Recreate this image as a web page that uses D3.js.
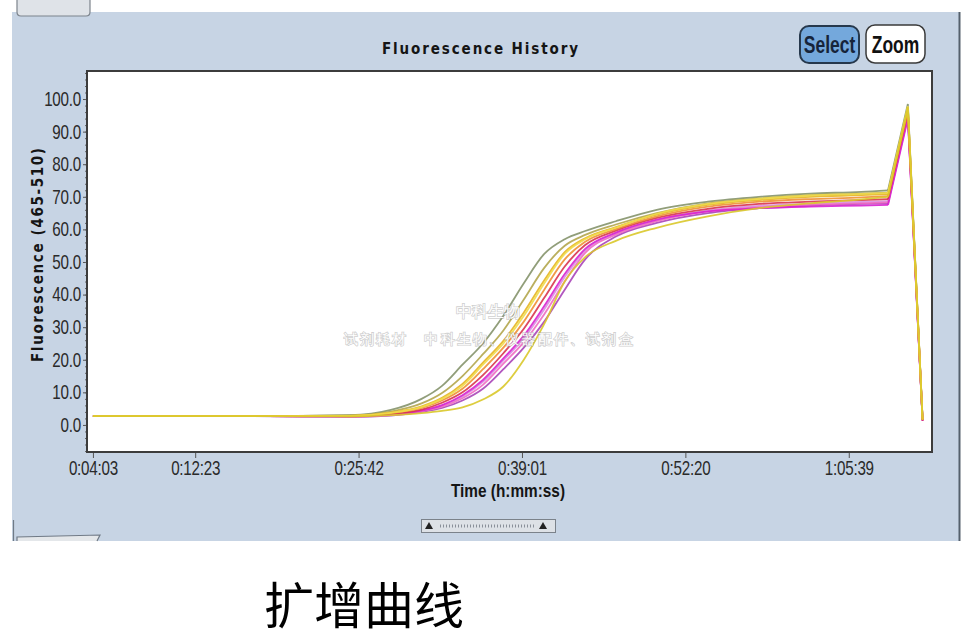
<!DOCTYPE html>
<html>
<head>
<meta charset="utf-8">
<script src="https://cdn.jsdelivr.net/npm/d3@7"></script>
<style>
  html, body { margin: 0; padding: 0; background: #fff; }
  svg text { font-family: "Liberation Sans", Arial, sans-serif; }
</style>
</head>
<body>
<div id="chart"></div>
<script>
// time of each reading, seconds
var times = [243, 1000, 1500, 1700, 1850, 1950, 2050, 2150, 2250, 2350, 2450, 2550, 2650, 2800, 3000, 3250, 3500, 3750, 4000, 4131, 4228, 4300];

// one array per sample (fluorescence 465-510)
var grayGreen = [2.7, 2.7, 3.0, 4.6, 8.0, 12.0, 18.5, 25.0, 33.5, 43.5, 52.5, 57.0, 59.5, 62.5, 66.0, 68.5, 70.0, 71.0, 71.5, 72.0, 98.5, 1.6];
var khaki     = [2.7, 2.7, 2.9, 4.1, 6.6, 9.8, 15.0, 21.7, 29.0, 38.5, 48.2, 55.0, 58.3, 61.5, 65.0, 68.0, 69.5, 70.5, 71.0, 71.3, 97.5, 1.4];
var purple    = [2.7, 2.7, 2.5, 2.9, 4.0, 5.2, 7.5, 11.1, 17.1, 23.7, 31.7, 41.5, 50.8, 57.8, 62.0, 65.0, 66.5, 67.3, 67.8, 68.0, 95.0, 1.5];
var orchid    = [2.7, 2.7, 2.6, 3.1, 4.3, 5.9, 8.7, 13.2, 19.8, 26.6, 35.5, 45.4, 53.5, 58.8, 62.8, 65.8, 67.2, 67.9, 68.4, 68.7, 95.2, 1.4];
var pink      = [2.7, 2.7, 2.6, 3.0, 4.2, 5.6, 8.2, 12.3, 18.8, 25.4, 34.0, 44.0, 52.8, 58.4, 62.5, 65.5, 66.8, 67.5, 68.0, 68.3, 94.5, 1.4];
var magenta   = [2.7, 2.7, 2.6, 3.2, 4.4, 6.1, 9.1, 13.8, 20.4, 27.4, 36.5, 46.3, 54.0, 59.0, 63.0, 65.5, 66.5, 67.0, 67.3, 67.5, 94.0, 1.2];
var red       = [2.7, 2.7, 2.7, 3.4, 4.7, 6.8, 10.0, 15.3, 22.0, 29.5, 39.0, 48.6, 55.2, 59.6, 63.5, 66.3, 67.8, 68.5, 69.0, 69.3, 96.0, 1.3];
var orange    = [2.7, 2.7, 2.7, 3.6, 5.2, 7.5, 11.1, 17.1, 23.7, 31.7, 41.5, 50.8, 56.2, 60.1, 64.0, 67.0, 68.5, 69.3, 69.8, 70.2, 96.5, 1.5];
var gold      = [2.7, 2.7, 2.8, 3.8, 5.7, 8.3, 12.6, 19.1, 25.8, 34.5, 44.4, 53.0, 57.3, 60.7, 64.5, 67.5, 69.0, 70.0, 70.5, 70.8, 97.0, 1.8];
var lightYel  = [2.7, 2.7, 2.8, 3.7, 5.5, 8.0, 12.0, 18.5, 25.0, 33.5, 43.5, 52.5, 57.0, 60.5, 64.8, 67.8, 69.4, 70.4, 70.9, 71.2, 97.8, 1.7];
var yellow    = [2.7, 2.7, 2.6, 3.0, 3.6, 4.3, 5.4, 7.8, 11.8, 20.0, 31.0, 44.0, 51.5, 56.5, 60.5, 64.0, 66.5, 68.0, 69.2, 70.0, 97.5, 1.5];

var seriesNames  = ['grayGreen', 'khaki', 'purple', 'orchid', 'pink', 'magenta', 'red', 'orange', 'gold', 'lightYel', 'yellow'];
var seriesValues = [grayGreen, khaki, purple, orchid, pink, magenta, red, orange, gold, lightYel, yellow];
var seriesColors = ['#85936b', '#b3a64c', '#a845b8', '#d88fe2', '#f06cc2', '#d822d0', '#d8344f', '#ef8f34', '#e6b524', '#f0dc4a', '#d9c82a'];

var xTicks = [243, 743, 1542, 2341, 3140, 3939];
var yTicks = [0, 10, 20, 30, 40, 50, 60, 70, 80, 90, 100];

var W = 976, H = 644,
    plot = { left: 87, top: 71, right: 932, bottom: 452 },
    narrow = 0.76;   // horizontal squeeze for the narrow instrument font

var svg = d3.select('#chart').append('svg')
    .attr('width', W)
    .attr('height', H);

// window panel
svg.append('rect')
    .attr('x', 12).attr('y', 12)
    .attr('width', 948).attr('height', 529)
    .attr('fill', '#c7d4e4');
svg.append('line')
    .attr('x1', 959.5).attr('x2', 959.5).attr('y1', 12).attr('y2', 541)
    .attr('stroke', '#55606c').attr('stroke-width', 2);
// top left tab
svg.append('path')
    .attr('d', 'M17,0 L17,12 Q17,16 21,16 L86,16 Q90,16 90,12 L90,0')
    .attr('fill', '#dfe3e8').attr('stroke', '#7d848c').attr('stroke-width', 1.2);
// bottom left tab
svg.append('line')
    .attr('x1', 13.5).attr('x2', 13.5).attr('y1', 520).attr('y2', 541)
    .attr('stroke', '#707a86').attr('stroke-width', 1.2);
svg.append('path')
    .attr('d', 'M17,541 L17,537 L100,535 L97,541')
    .attr('fill', '#e4e7ea').attr('stroke', '#707a86').attr('stroke-width', 1.2);

// title
svg.append('text')
    .attr('x', 480).attr('y', 54)
    .attr('text-anchor', 'middle')
    .attr('textLength', 196).attr('lengthAdjust', 'spacing')
    .style('font-family', '"DejaVu Sans Condensed", "DejaVu Sans", sans-serif')
    .style('font-weight', 'bold').style('font-size', '15px')
    .attr('fill', '#151515')
    .text('Fluorescence History');

// Select / Zoom buttons
svg.append('rect')
    .attr('x', 800).attr('y', 26).attr('width', 59).attr('height', 37).attr('rx', 9)
    .attr('fill', '#74a8dc').attr('stroke', '#26384c').attr('stroke-width', 2);
svg.append('text')
    .attr('transform', 'translate(829.5,53) scale(' + narrow + ',1)')
    .attr('text-anchor', 'middle')
    .style('font-weight', 'bold').style('font-size', '23px')
    .attr('fill', '#16243a').text('Select');
svg.append('rect')
    .attr('x', 866).attr('y', 25).attr('width', 59).attr('height', 38).attr('rx', 9)
    .attr('fill', '#ffffff').attr('stroke', '#3a3a3a').attr('stroke-width', 1.5);
svg.append('text')
    .attr('transform', 'translate(895.5,53) scale(' + narrow + ',1)')
    .attr('text-anchor', 'middle')
    .style('font-weight', 'bold').style('font-size', '23px')
    .attr('fill', '#111').text('Zoom');

// scales
var x = d3.scaleLinear().domain([214, 4346]).range([plot.left, plot.right]);
var y = d3.scaleLinear().domain([-8.3, 108.6]).range([plot.bottom, plot.top]);

// plot background
svg.append('rect')
    .attr('x', plot.left).attr('y', plot.top)
    .attr('width', plot.right - plot.left).attr('height', plot.bottom - plot.top)
    .attr('fill', '#fff');

function hms(s) {
    var h = Math.floor(s / 3600), m = Math.floor((s % 3600) / 60), sec = s % 60;
    return h + ':' + d3.format('02d')(m) + ':' + d3.format('02d')(sec);
}

// axes
var yAxis = d3.axisLeft(y).tickValues(yTicks).tickFormat(d3.format('.1f')).tickSize(4).tickPadding(2);
var yMinor = d3.axisLeft(y).tickValues(d3.range(-8, 109, 2)).tickFormat('').tickSize(2);
var xAxis = d3.axisBottom(x).tickValues(xTicks).tickFormat(hms).tickSize(6).tickPadding(3);

var gy = svg.append('g').attr('transform', 'translate(' + plot.left + ',0)').call(yAxis);
svg.append('g').attr('transform', 'translate(' + plot.left + ',0)').call(yMinor)
    .call(g => g.select('.domain').remove())
    .selectAll('line').attr('stroke', '#666');
var gx = svg.append('g').attr('transform', 'translate(0,' + plot.bottom + ')').call(xAxis);

[gy, gx].forEach(function (g) {
    g.select('.domain').remove();
    g.selectAll('line').attr('stroke', '#555');
    g.selectAll('text')
        .style('font-size', '20px')
        .style('letter-spacing', '-0.3px')
        .attr('fill', '#2a2a2a')
        .attr('transform', 'scale(' + narrow + ',1)');
});
gy.selectAll('text').attr('x', -6 / narrow);

// lines
svg.append('clipPath').attr('id', 'clip')
    .append('rect')
    .attr('x', plot.left).attr('y', plot.top)
    .attr('width', plot.right - plot.left).attr('height', plot.bottom - plot.top);

var smooth = d3.line()
    .x(d => x(d[0]))
    .y(d => y(d[1]))
    .curve(d3.curveMonotoneX);
var straight = d3.line()
    .x(d => x(d[0]))
    .y(d => y(d[1]));

var lines = svg.append('g').attr('clip-path', 'url(#clip)');

seriesValues.forEach(function (vals, i) {
    var pts = times.map((t, j) => [t, vals[j]]);
    var split = times.indexOf(4131);
    var g = lines.append('g').attr('class', 'series ' + seriesNames[i]);
    g.append('path')
        .attr('d', smooth(pts.slice(0, split + 1)))
        .attr('fill', 'none')
        .attr('stroke', seriesColors[i])
        .attr('stroke-width', 1.8)
        .attr('stroke-opacity', 0.9);
    g.append('path')
        .attr('d', straight(pts.slice(split)))
        .attr('fill', 'none')
        .attr('stroke', seriesColors[i])
        .attr('stroke-width', 1.8)
        .attr('stroke-opacity', 0.9);
});

// plot border
svg.append('rect')
    .attr('x', plot.left).attr('y', plot.top)
    .attr('width', plot.right - plot.left).attr('height', plot.bottom - plot.top)
    .attr('fill', 'none').attr('stroke', '#3c3c3c').attr('stroke-width', 2);

// axis titles
svg.append('text')
    .attr('x', 508).attr('y', 497)
    .attr('text-anchor', 'middle')
    .attr('textLength', 114).attr('lengthAdjust', 'spacingAndGlyphs')
    .style('font-weight', 'bold').style('font-size', '19px')
    .attr('fill', '#151515')
    .text('Time (h:mm:ss)');

svg.append('text')
    .attr('transform', 'translate(43,255) rotate(-90)')
    .attr('text-anchor', 'middle')
    .attr('textLength', 214).attr('lengthAdjust', 'spacing')
    .style('font-family', '"DejaVu Sans Condensed", "DejaVu Sans", sans-serif')
    .style('font-weight', 'bold').style('font-size', '15px')
    .attr('fill', '#151515')
    .text('Fluorescence (465-510)');

// scrollbar
var sb = svg.append('g');
sb.append('rect')
    .attr('x', 421.5).attr('y', 519.5).attr('width', 134).attr('height', 13)
    .attr('fill', '#dde1e6').attr('stroke', '#7b828a');
sb.append('line')
    .attr('x1', 440).attr('x2', 536).attr('y1', 526).attr('y2', 526)
    .attr('stroke', '#8a9099').attr('stroke-width', 3).attr('stroke-dasharray', '1,2');
sb.append('path').attr('d', 'M425,529 L429,522 L433,529 Z').attr('fill', '#222');
sb.append('path').attr('d', 'M539,529 L543,522 L547,529 Z').attr('fill', '#222');

// watermark
var wm = svg.append('g')
    .style('font-family', '"Noto Sans CJK SC", sans-serif')
    .attr('fill', '#ffffff')
    .attr('stroke', 'rgba(150,150,150,0.45)')
    .attr('stroke-width', 1.6)
    .style('paint-order', 'stroke');
wm.append('text').attr('x', 488).attr('y', 317).attr('text-anchor', 'middle')
    .style('font-size', '16px').text('中科生物');
wm.append('text').attr('x', 488).attr('y', 344).attr('text-anchor', 'middle')
    .style('font-size', '14px').attr('textLength', 289).attr('lengthAdjust', 'spacing')
    .text('试剂耗材　中科生物、仪器配件、试剂盒');

// caption
svg.append('text')
    .attr('x', 364).attr('y', 624)
    .attr('text-anchor', 'middle')
    .style('font-family', '"Noto Sans CJK SC", sans-serif')
    .style('font-size', '50px')
    .attr('fill', '#000')
    .text('扩增曲线');
</script>
</body>
</html>
